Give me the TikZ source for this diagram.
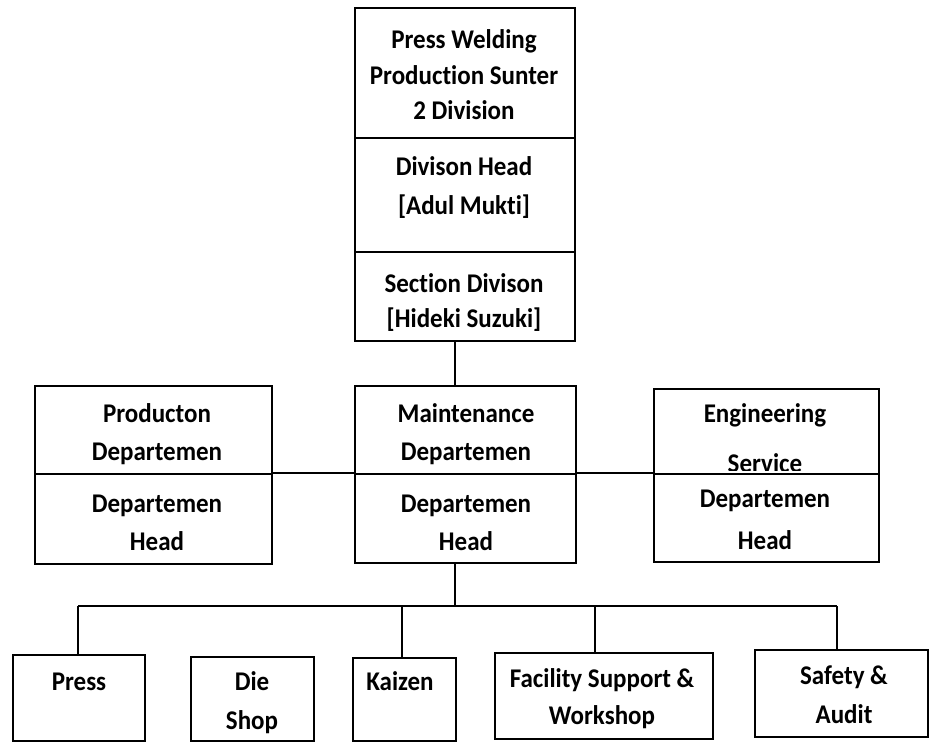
\documentclass[tikz,border=0pt]{standalone}
\usepackage{fontspec}
\setmainfont{Carlito}[Ligatures=NoCommon]
% labels are set a little taller than the font's natural shape
\newcommand\tallword[1]{\scalebox{1}[1.08]{#1}}
\begin{document}
\begin{tikzpicture}[x=1pt,y=-1pt,
  box/.style={draw, line width=2pt, anchor=north west, inner sep=0pt},
  txt/.style={font=\bfseries\fontsize{25}{30}\selectfont, inner sep=0pt, anchor=base},
  link/.style={line width=2pt}]
\fill[white] (0,0) rectangle (932,742);
\clip (0,0) rectangle (932,742);

% division block
\node[box, minimum width=220pt, minimum height=130pt] (tp1) at (354,7) {};
\node[box, minimum width=220pt, minimum height=114pt] (tp2) at (354,137) {};
\node[box, minimum width=220pt, minimum height=89pt]  (tp3) at (354,251) {};
\node[txt] (tp1a) at (464,48)  {\tallword{Press Welding}};
\node[txt] (tp1b) at (464,84)  {\tallword{Production Sunter}};
\node[txt] (tp1c) at (464,119) {\tallword{2 Division}};
\node[txt] (tp2a) at (464,175) {\tallword{Divison Head}};
\node[txt] (tp2b) at (464,214) {\tallword{[Adul Mukti]}};
\node[txt] (tp3a) at (464,292) {\tallword{Section Divison}};
\node[txt] (tp3b) at (464,327) {\tallword{[Hideki Suzuki]}};

% departments
\node[box, minimum width=237pt, minimum height=88pt] (pd1) at (34,385) {};
\node[box, minimum width=237pt, minimum height=90pt] (pd2) at (34,473) {};
\node[box, minimum width=221pt, minimum height=88pt] (mt1) at (354,385) {};
\node[box, minimum width=221pt, minimum height=89pt] (mt2) at (354,473) {};
\node[txt] (pd1a) at (157,422) {\tallword{Producton}};
\node[txt] (pd1b) at (157,460) {\tallword{Departemen}};
\node[txt] (pd2a) at (157,512) {\tallword{Departemen}};
\node[txt] (pd2b) at (157,550) {\tallword{Head}};
\node[txt] (mt1a) at (466,422) {\tallword{Maintenance}};
\node[txt] (mt1b) at (466,460) {\tallword{Departemen}};
\node[txt] (mt2a) at (466,512) {\tallword{Departemen}};
\node[txt] (mt2b) at (466,550) {\tallword{Head}};
\node[txt] (en1a) at (765,422) {\tallword{Engineering}};
\begin{scope}
  % the lower edge of this line runs under the divider
  \clip (653,388) rectangle (878,470);
  \node[txt] (en1b) at (765,472) {\tallword{Service}};
\end{scope}
\node[box, minimum width=225pt, minimum height=85pt] (en1) at (653,388) {};
\node[box, minimum width=225pt, minimum height=88pt] (en2) at (653,473) {};
\node[txt] (en2a) at (765,507) {\tallword{Departemen}};
\node[txt] (en2b) at (765,549) {\tallword{Head}};

% sections
\node[box, minimum width=132pt, minimum height=86pt] (ps) at (12,654) {};
\node[box, minimum width=123pt, minimum height=84pt] (ds) at (190,656) {};
\node[box, minimum width=103pt, minimum height=83pt] (kz) at (352,657) {};
\node[box, minimum width=218pt, minimum height=86pt] (fs) at (494,652) {};
\node[box, minimum width=173pt, minimum height=87pt] (sa) at (754,649) {};
\node[txt] (psa) at (79,690)  {\tallword{Press}};
\node[txt] (dsa) at (252,690) {\tallword{Die}};
\node[txt] (dsb) at (252,729) {\tallword{Shop}};
\node[txt] (kza) at (400,690) {\tallword{Kaizen}};
\node[txt] (fsa) at (602,687) {\tallword{Facility Support \&}};
\node[txt] (fsb) at (602,724) {\tallword{Workshop}};
\node[txt] (saa) at (844,684) {\tallword{Safety \&}};
\node[txt] (sab) at (844,723) {\tallword{Audit}};

% connectors
\coordinate (stem) at (455,0);
\coordinate (busL) at (78,606);
\coordinate (busR) at (837,606);
\coordinate (dropK) at (402,606);
\coordinate (dropF) at (595,606);
\draw[link] (stem |- tp3.south) -- (stem |- mt1.north);
\draw[link] (pd2.north east) -- (mt2.north west);
\draw[link] (mt2.north east) -- (en2.north west);
\draw[link] (stem |- mt2.south) -- (stem |- busL);
\draw[link] (busL) -- (busR);
\draw[link] (busL) -- (busL |- ps.north);
\draw[link] (dropK) -- (dropK |- kz.north);
\draw[link] (dropF) -- (dropF |- fs.north);
\draw[link] (busR) -- (busR |- sa.north);
\end{tikzpicture}
\end{document}
